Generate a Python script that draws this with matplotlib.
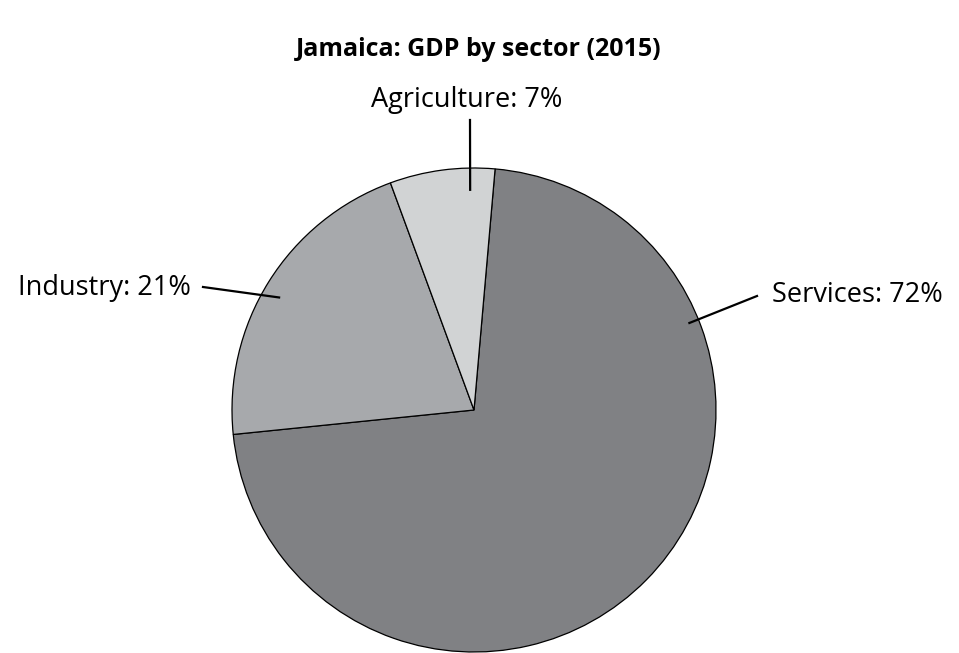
import numpy as np
import matplotlib
matplotlib.use("Agg")
import matplotlib.pyplot as plt

sectors = ["Services", "Industry", "Agriculture"]
shares = [72, 21, 7]
colors = ["#808184", "#a7a9ac", "#d1d3d4"]

plt.rcParams["font.family"] = ["Open Sans", "DejaVu Sans"]

fig = plt.figure(figsize=(9.59, 6.53), dpi=100)
ax = fig.add_axes([0, 0, 1, 1])

cx, cy, r = 474, 243, 242
ax.pie(shares, colors=colors, startangle=85, counterclock=False,
       center=(cx, cy), radius=r, frame=True,
       wedgeprops=dict(edgecolor="black", linewidth=0.9))
ax.set_xlim(0, 959)
ax.set_ylim(0, 653)
ax.set_aspect("equal")
ax.axis("off")

# leader lines: angle on the pie, radius fraction, end point, text anchor
leaders = [
    (22, 0.96, (757, 357), "left"),
    (150, 0.93, (203, 366), "right"),
    (91, 0.91, (470, 533), "center"),
]
for name, pct, (ang, frac, end, ha) in zip(sectors, shares, leaders):
    a = np.deg2rad(ang)
    x0 = cx + frac * r * np.cos(a)
    y0 = cy + frac * r * np.sin(a)
    ax.plot([x0, end[0]], [y0, end[1]], color="black", lw=1.6)
    label = f"{name}: {pct}%"
    if ha == "center":
        ax.text(end[0] - 3, end[1] + 6, label, ha="center", va="bottom", fontsize=19.5)
    elif ha == "left":
        ax.text(end[0] + 15, end[1] + 1, label, ha="left", va="center", fontsize=19.5)
    else:
        ax.text(end[0] - 12, end[1] - 1, label, ha="right", va="center", fontsize=19.5)

ax.text(479, 604, "Jamaica: GDP by sector (2015)", ha="center", va="center",
        fontsize=18, fontweight="bold")

fig.savefig("out.png", dpi=100)
